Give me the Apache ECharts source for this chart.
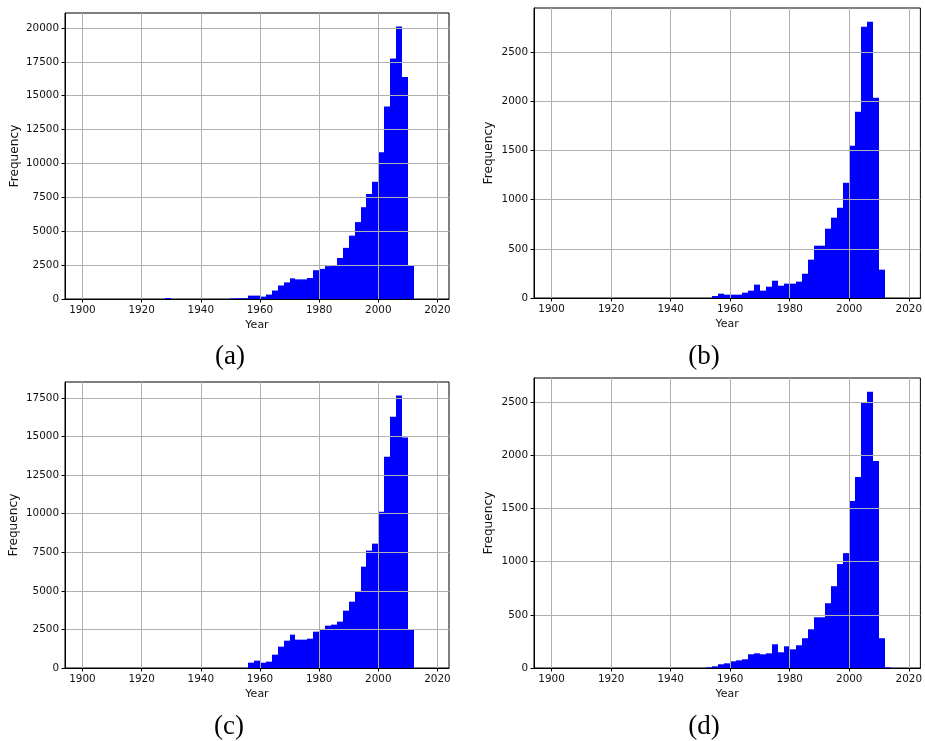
<!DOCTYPE html>
<html>
<head>
<meta charset="utf-8">
<script src="https://cdn.jsdelivr.net/npm/echarts@6/dist/echarts.min.js"></script>
<style>
  html, body { margin: 0; padding: 0; background: #fff; }
  #chart { width: 925px; height: 741px; }
</style>
</head>
<body>
<div id="chart"></div>
<script>
// Histogram bin start years (bin width 2 years)
const binStarts = [1926, 1928, 1930, 1932, 1934, 1936, 1938, 1940, 1942, 1944, 1946, 1948,
  1950, 1952, 1954, 1956, 1958, 1960, 1962, 1964, 1966, 1968, 1970, 1972, 1974, 1976, 1978,
  1980, 1982, 1984, 1986, 1988, 1990, 1992, 1994, 1996, 1998, 2000, 2002, 2004, 2006, 2008,
  2010, 2012];
const binWidth = 2;

const countsA = [0, 70, 0, 0, 0, 0, 0, 0, 0, 0, 0, 0,
  40, 50, 60, 250, 250, 175, 325, 625, 1000, 1225, 1525, 1450, 1450, 1550, 2125,
  2225, 2425, 2475, 3025, 3775, 4675, 5675, 6775, 7750, 8650, 10825, 14200, 17750, 20100, 16375,
  2450, 0];
const countsB = [0, 0, 0, 0, 0, 0, 0, 0, 0, 0, 0, 0,
  0, 0, 20, 44, 34, 34, 34, 54, 75, 136, 75, 115, 176, 125, 146,
  146, 166, 247, 390, 532, 532, 705, 817, 918, 1172, 1548, 1894, 2758, 2809, 2036,
  288, 0];
const countsC = [0, 0, 0, 0, 0, 0, 0, 0, 0, 0, 0, 0,
  0, 0, 0, 346, 475, 346, 410, 864, 1383, 1771, 2160, 1836, 1836, 1900, 2354,
  2484, 2743, 2808, 3003, 3715, 4298, 4968, 6566, 7604, 8057, 10130, 13694, 16286, 17647, 14926,
  2506, 0];
const countsD = [0, 0, 0, 0, 0, 0, 0, 0, 0, 0, 0, 0,
  0, 6, 16, 35, 44, 63, 72, 82, 129, 138, 129, 138, 223, 148, 204,
  176, 214, 280, 364, 477, 477, 609, 769, 977, 1080, 1570, 1796, 2499, 2597, 1947,
  280, 6];

const xTicks = [1900, 1920, 1940, 1960, 1980, 2000, 2020];
const yTicksA = [0, 2500, 5000, 7500, 10000, 12500, 15000, 17500, 20000];
const yTicksB = [0, 500, 1000, 1500, 2000, 2500];
const yTicksC = [0, 2500, 5000, 7500, 10000, 12500, 15000, 17500];
const yTicksD = [0, 500, 1000, 1500, 2000, 2500];
const panelLabels = ['(a)', '(b)', '(c)', '(d)'];

const xName = 'Year';
const yName = 'Frequency';

// layout
const grids = [
  { left: 65, top: 13, width: 384, height: 286 },
  { left: 534, top: 8, width: 389, height: 290 },
  { left: 65, top: 382, width: 384, height: 286 },
  { left: 534, top: 378, width: 389, height: 290 }
];
const yNameGaps = [44, 39, 45, 39];
const labelPos = [[230, 357], [704, 357], [229, 727], [704, 727]];

const allCounts = [countsA, countsB, countsC, countsD];
const allYTicks = [yTicksA, yTicksB, yTicksC, yTicksD];

const binLo = 1900, binHi = 2018;
const pad = (binHi - binLo) * 0.05;

const tickFont = { fontFamily: 'DejaVu Sans', fontSize: 10.4, color: '#111' };

const option = {
  animation: false,
  backgroundColor: '#fff',
  grid: grids.map(g => Object.assign({ show: true, borderColor: '#000', borderWidth: 1, backgroundColor: 'transparent' }, g)),
  xAxis: grids.map((g, i) => ({
    type: 'value',
    gridIndex: i,
    min: binLo - pad,
    max: binHi + pad,
    z: 5,
    name: xName,
    nameLocation: 'middle',
    nameGap: 21,
    nameTextStyle: { fontFamily: 'DejaVu Sans', fontSize: 11, color: '#111' },
    axisLine: { show: true, onZero: false, lineStyle: { color: '#000', width: 1 } },
    axisTick: { show: true, inside: false, length: 3.5, customValues: xTicks, lineStyle: { color: '#000', width: 1 } },
    axisLabel: Object.assign({ margin: 6, customValues: xTicks, formatter: v => String(v) }, tickFont),
    splitLine: { show: true, lineStyle: { color: '#b0b0b0', width: 1 } }
  })),
  yAxis: grids.map((g, i) => {
    const mx = Math.max.apply(null, allCounts[i]) * 1.05;
    return {
      type: 'value',
      gridIndex: i,
      min: 0,
      max: mx,
      z: 5,
      name: yName,
      nameLocation: 'middle',
      nameGap: yNameGaps[i],
      nameRotate: 90,
      nameTextStyle: { fontFamily: 'DejaVu Sans', fontSize: 12.2, color: '#111' },
      axisLine: { show: true, onZero: false, lineStyle: { color: '#000', width: 1 } },
      axisTick: { show: true, inside: false, length: 3.5, customValues: allYTicks[i], lineStyle: { color: '#000', width: 1 } },
      axisLabel: Object.assign({ margin: 6, customValues: allYTicks[i], formatter: v => String(v) }, tickFont),
      splitLine: { show: true, lineStyle: { color: '#b0b0b0', width: 1 } }
    };
  }),
  series: allCounts.map((counts, i) => ({
    type: 'custom',
    xAxisIndex: i,
    yAxisIndex: i,
    z: 2,
    data: binStarts.map((x, k) => [x, counts[k]]),
    renderItem: function (params, api) {
      const x0 = api.value(0);
      const c = api.value(1);
      if (!c) return null;
      const p0 = api.coord([x0, c]);
      const p1 = api.coord([x0 + binWidth, 0]);
      const xl = Math.round(p0[0]);
      const xr = Math.round(p1[0]);
      return {
        type: 'rect',
        shape: { x: xl, y: p0[1], width: xr - xl, height: p1[1] - p0[1] },
        style: { fill: '#0000ff' }
      };
    }
  })),
  graphic: panelLabels.map((t, i) => ({
    type: 'text',
    x: labelPos[i][0],
    y: labelPos[i][1],
    style: {
      text: t,
      fontFamily: 'Liberation Serif',
      fontSize: 27,
      fill: '#000',
      align: 'center',
      verticalAlign: 'middle'
    }
  }))
};

const chart = echarts.init(document.getElementById('chart'), null, { renderer: 'canvas' });
chart.setOption(option);
</script>
</body>
</html>
